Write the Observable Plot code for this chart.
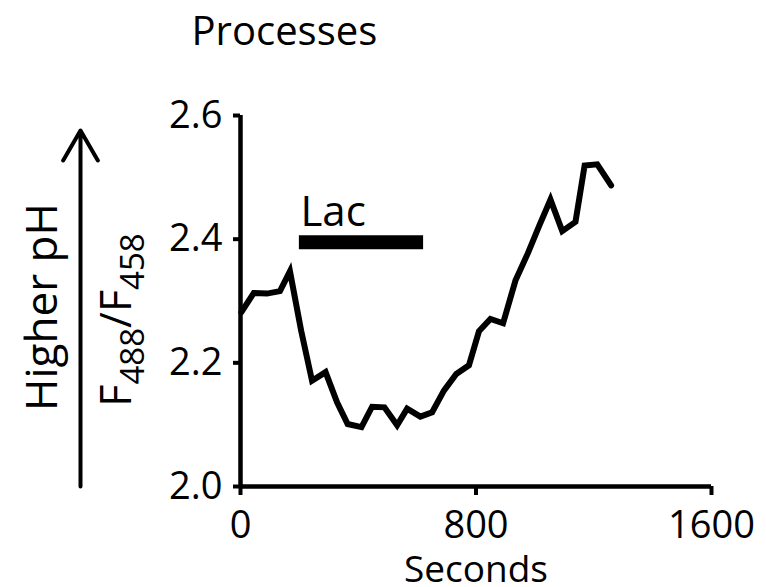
<!DOCTYPE html>
<html><head><meta charset="utf-8">
<script src="https://cdn.jsdelivr.net/npm/d3@7"></script>
<script src="https://cdn.jsdelivr.net/npm/@observablehq/plot@0.6"></script>
<style>html,body{margin:0;padding:0;background:#fff} svg{display:block}</style>
</head><body><div id="chart"></div>
<script>
// ---- data ----
const seconds = [3, 45, 90, 134, 168, 206, 243, 289, 328, 364, 411, 447, 489, 532, 566, 611, 651, 691, 733, 776, 810, 849, 892, 934, 976, 1016, 1053, 1093, 1138, 1169, 1212, 1259];
const ratio   = [2.282, 2.313, 2.312, 2.316, 2.348, 2.252, 2.171, 2.185, 2.136, 2.101, 2.096, 2.129, 2.128, 2.099, 2.126, 2.113, 2.120, 2.155, 2.182, 2.196, 2.251, 2.271, 2.264, 2.333, 2.377, 2.423, 2.464, 2.413, 2.428, 2.519, 2.521, 2.487];
const xTicks = [0, 800, 1600];
const yTicks = [2.0, 2.2, 2.4, 2.6];
const lacPeriod = [200, 622];   // seconds
const lacLevel = 2.395;
const lacLabel = "Lac";
const titleText = "Processes";
const xLabel = "Seconds";
const yLabel = "F488/F458";
const yNote = "Higher pH";

const data = seconds.map((s, i) => ({s, r: ratio[i]}));
const FONT = "'Open Sans', 'Noto Sans', sans-serif";

const chart = Plot.plot({
  width: 766, height: 587,
  marginLeft: 240, marginRight: 55, marginTop: 115, marginBottom: 101,
  style: {fontFamily: FONT, fontSize: "40px", color: "black", background: "white", overflow: "visible"},
  x: {domain: [0, 1600]},
  y: {domain: [2.0, 2.6]},
  marks: [
    Plot.ruleX([xTicks[0]], {y1: yTicks[0], y2: yTicks[yTicks.length - 1], strokeWidth: 4.5}),
    Plot.ruleY([yTicks[0]], {x1: xTicks[0], x2: xTicks[xTicks.length - 1], strokeWidth: 4.5}),
    Plot.axisY({ticks: yTicks, tickFormat: d3.format(".1f"), tickSize: 7, tickPadding: 11, strokeWidth: 4, fontSize: 38, label: null}),
    Plot.axisX({ticks: xTicks, tickFormat: d => String(d), tickSize: 9, tickPadding: 16, strokeWidth: 4, fontSize: 38, label: null}),
    Plot.line(data, {x: "s", y: "r", strokeWidth: 6, strokeLinejoin: "miter", strokeMiterlimit: 4}),
    Plot.ruleY([lacLevel], {x1: lacPeriod[0], x2: lacPeriod[1], strokeWidth: 14}),
    Plot.text([lacLabel], {x: lacPeriod[0], y: lacLevel, text: d => d, textAnchor: "start", lineAnchor: "middle", dx: 1, dy: -30, fontSize: 42}),
    Plot.text([titleText], {frameAnchor: "top-left", text: d => d, textAnchor: "start", lineAnchor: "top", dx: -49, dy: -99, fontSize: 40}),
    Plot.text([xLabel], {frameAnchor: "bottom", text: d => d, textAnchor: "middle", lineAnchor: "top", dy: 69, fontSize: 37}),
    Plot.text([yNote], {frameAnchor: "left", text: d => d, rotate: -90, textAnchor: "middle", lineAnchor: "middle", dx: -198, dy: 6, fontSize: 44}),
    Plot.text([yLabel], {frameAnchor: "left", text: d => d, rotate: -90, textAnchor: "middle", lineAnchor: "middle", dx: -123, dy: 19, fontSize: 43}),
    Plot.arrow([0], {x1: xTicks[0], x2: xTicks[0], y1: yTicks[0], y2: yTicks[yTicks.length - 1], dx: -160, insetEnd: 15, strokeWidth: 4, headLength: 13, headAngle: 60, strokeLinejoin: "miter"})
  ]
});

// subscripts for the ratio label
chart.querySelectorAll("text").forEach(t => {
  if (t.textContent === yLabel) {
    t.textContent = "";
    const ns = "http://www.w3.org/2000/svg";
    const parts = [["F", 0, null], ["488", 13, 33], ["/", -13, null], ["F", 0, null], ["458", 13, 33]];
    parts.forEach(([s, shift, size]) => {
      const ts = document.createElementNS(ns, "tspan");
      ts.textContent = s;
      if (shift) ts.setAttribute("dy", shift);
      if (size) ts.setAttribute("font-size", size);
      t.appendChild(ts);
    });
  }
});
document.getElementById("chart").appendChild(chart);
</script>
</body></html>
